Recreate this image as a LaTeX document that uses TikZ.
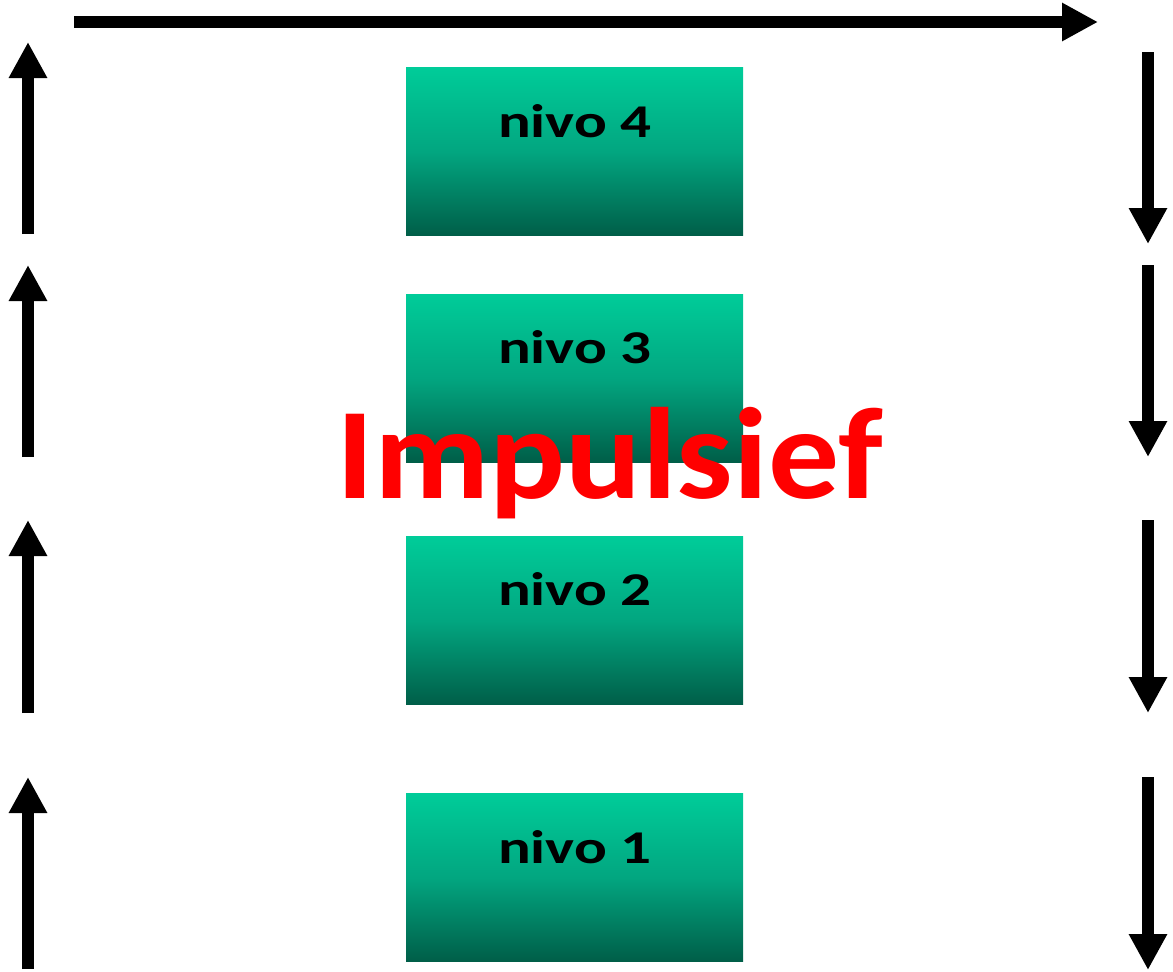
\documentclass[tikz,border=0pt]{standalone}
\usepackage{fontspec}
\setmainfont{Carlito}
\usetikzlibrary{arrows.meta}
\definecolor{boxtop}{HTML}{00CC99}
\definecolor{boxmid}{HTML}{02A680}
\definecolor{boxbot}{HTML}{005E48}
\definecolor{impred}{HTML}{FF0000}
\tikzset{
  levelbox/.style={minimum width=337pt, minimum height=168pt, inner sep=0pt, outer sep=0pt,
    top color=boxtop, bottom color=boxbot, middle color=boxmid, draw=none},
  leveltext/.style={font=\bfseries\fontsize{47}{50}\selectfont, text=black, inner sep=0pt,
    anchor=base, xscale=1.3, transform shape},
  bigtext/.style={font=\bfseries\fontsize{130}{140}\selectfont, text=impred, inner sep=0pt,
    anchor=base, xscale=1.09, transform shape},
  bigarrow/.style={line width=12pt, -{Triangle[length=36pt, width=36pt]}},
}
\begin{document}
\begin{tikzpicture}[x=1pt, y=-1pt]
\useasboundingbox (0,0) rectangle (1173,972);
% boxes
\node[levelbox] (b4) at (574.5,151.5) {};
\node[levelbox] (b3) at (574.5,378) {};
\node[levelbox] (b2) at (574.5,620.5) {};
\node[levelbox] (b1) at (574.5,877.5) {};
\node[leveltext] (t4) at (575,137) {nivo 4};
\node[leveltext] (t3) at (575,363) {nivo 3};
\node[leveltext] (t2) at (575,605) {nivo 2};
\node[leveltext] (t1) at (575,863) {nivo 1};
% big text
\node[bigtext] (imp) at (610,498) {Impulsief};
% arrow end coordinates
\coordinate (h0) at (74,22); \coordinate (h1) at (1098,22);
\coordinate (l1a) at (28,234); \coordinate (l1b) at (28,42);
\coordinate (l2a) at (28,457); \coordinate (l2b) at (28,265);
\coordinate (l3a) at (28,713); \coordinate (l3b) at (28,520);
\coordinate (l4a) at (28,969); \coordinate (l4b) at (28,777);
\coordinate (r1a) at (1148,52); \coordinate (r1b) at (1148,244);
\coordinate (r2a) at (1148,265); \coordinate (r2b) at (1148,457);
\coordinate (r3a) at (1148,520); \coordinate (r3b) at (1148,713);
\coordinate (r4a) at (1148,777); \coordinate (r4b) at (1148,970);
\draw[bigarrow] (h0) -- (h1);
\draw[bigarrow] (l1a) -- (l1b);
\draw[bigarrow] (l2a) -- (l2b);
\draw[bigarrow] (l3a) -- (l3b);
\draw[bigarrow] (l4a) -- (l4b);
\draw[bigarrow] (r1a) -- (r1b);
\draw[bigarrow] (r2a) -- (r2b);
\draw[bigarrow] (r3a) -- (r3b);
\draw[bigarrow] (r4a) -- (r4b);
\end{tikzpicture}
\end{document}
